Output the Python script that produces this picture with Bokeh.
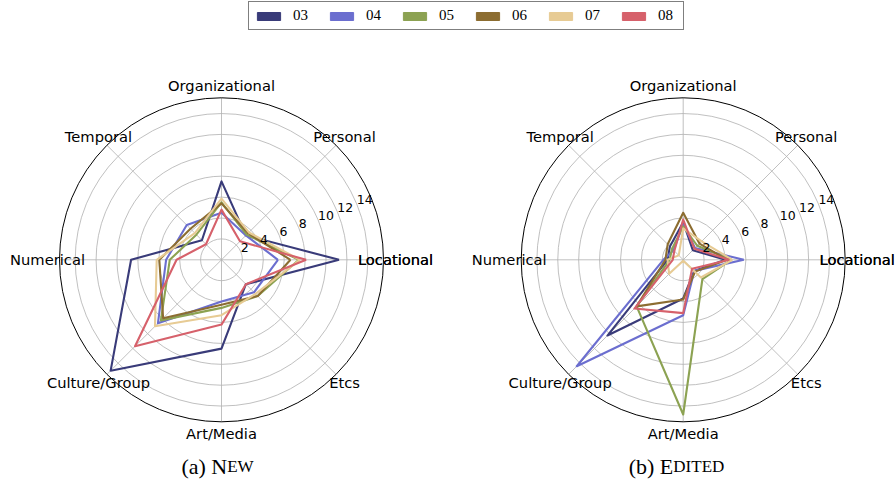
import numpy as np
from bokeh.plotting import figure
from bokeh.models import Range1d, Legend, LegendItem, ColumnDataSource
from bokeh.core.properties import value
from bokeh.embed import file_html
from bokeh.resources import INLINE

# ---------------- data ----------------
categories = ["Locational", "Personal", "Organizational", "Temporal",
              "Numerical", "Culture/Group", "Art/Media", "Etcs"]
series_names = ["03", "04", "05", "06", "07", "08"]
r_ticks = [2, 4, 6, 8, 10, 12, 14]
r_max = 15.5

new_03 = [11.25, 3.3, 7.5, 2.65, 8.65, 15.0, 8.5, 3.3]
new_04 = [5.4, 3.3, 4.5, 4.7, 5.3, 8.6, 4.0, 4.4]
new_05 = [7.4, 3.4, 5.5, 3.4, 4.95, 8.2, 4.6, 4.9]
new_06 = [6.6, 3.6, 5.4, 4.2, 5.95, 7.9, 4.3, 4.9]
new_07 = [7.5, 3.7, 5.85, 3.6, 6.2, 9.0, 5.3, 4.6]
new_08 = [8.1, 2.5, 4.8, 2.1, 4.3, 11.7, 6.2, 3.3]

edited_03 = [4.05, 1.3, 3.6, 1.8, 1.5, 10.25, 3.7, 1.5]
edited_04 = [5.8, 1.6, 3.4, 1.3, 1.9, 14.4, 5.3, 1.5]
edited_05 = [4.6, 1.9, 3.2, 1.5, 1.3, 6.3, 14.8, 2.6]
edited_06 = [4.2, 2.2, 4.5, 2.1, 1.7, 6.3, 3.8, 1.6]
edited_07 = [4.7, 2.5, 3.0, 0.6, 1.5, 1.9, 0.1, 2.4]
edited_08 = [4.4, 1.5, 3.85, 1.2, 1.0, 6.6, 5.1, 1.2]

new_series = [new_03, new_04, new_05, new_06, new_07, new_08]
edited_series = [edited_03, edited_04, edited_05, edited_06, edited_07, edited_08]

# ---------------- style / layout ----------------
colors = ["#393b79", "#6b6ecf", "#8ca252", "#8c6d31", "#e7cb94", "#d6616b"]
W, H = 895, 479
S = 162.0 / r_max            # px per radial unit
CXL, CY = 221.0, 259.3       # left centre (px from top-left of canvas)
CXR = 682.7                  # right centre
SANS = value("DejaVu Sans")
SERIF = value("Liberation Serif")

p = figure(width=W, height=H, output_backend="svg", toolbar_location=None,
           x_axis_location=None, y_axis_location=None, min_border=0,
           x_range=Range1d(-CXL / S, (W - CXL) / S),
           y_range=Range1d(-(H - CY) / S, CY / S))
p.grid.visible = False
p.outline_line_color = None
p.background_fill_color = "white"

angles = np.deg2rad(np.arange(len(categories)) * 45.0)


def radar(cx, cy, series_list):
    # rings
    p.circle(x=[cx] * len(r_ticks), y=[cy] * len(r_ticks), radius=r_ticks,
             fill_color=None, line_color="#b0b0b0", line_width=0.8)
    # spokes
    p.segment(x0=[cx] * len(angles), y0=[cy] * len(angles),
              x1=cx + r_max * np.cos(angles), y1=cy + r_max * np.sin(angles),
              line_color="#b0b0b0", line_width=0.8)
    # outer circle
    p.circle(x=[cx], y=[cy], radius=[r_max], fill_color=None,
             line_color="black", line_width=1.0)
    # series
    for vals, col in zip(series_list, colors):
        v = np.array(vals + vals[:1], dtype=float)
        a = np.concatenate([angles, angles[:1]])
        p.line(cx + v * np.cos(a), cy + v * np.sin(a), line_color=col,
               line_width=2.1, line_join="round")
    # category labels
    lr = 174.0 / S
    lab_x = list(cx + lr * np.cos(angles)) + [cx + lr]
    lab_y = list(cy + lr * np.sin(angles)) + [cy]
    p.text(x=lab_x, y=lab_y, text=categories + [categories[0]],
           text_font=SANS, text_font_size="14.7px", text_color="#000000",
           text_align="center", text_baseline="middle")
    # radial tick labels
    ta = np.deg2rad(22.5)
    rt = np.array(r_ticks, dtype=float)
    p.text(x=cx + rt * np.cos(ta), y=cy + rt * np.sin(ta),
           text=[str(t) for t in r_ticks], text_font=SANS,
           text_font_size="12.5px", text_color="#000000",
           text_align="left", text_baseline="bottom")


radar(0.0, 0.0, new_series)
radar((CXR - CXL) / S, 0.0, edited_series)

# captions (small caps emulated)
F_BIG, F_SMALL = 22.0, 17.0
base_y = -(466.0 - CY) / S


def caption(center_px, big, small, big_em, small_em):
    wb = big_em * F_BIG
    ws = small_em * F_SMALL
    x0 = center_px - (wb + ws) / 2.0
    p.text(x=[(x0 - CXL) / S], y=[base_y], text=[big], text_font=SERIF,
           text_font_size=f"{F_BIG}px", text_align="left",
           text_baseline="alphabetic", text_color="#000000")
    p.text(x=[(x0 + wb - CXL) / S], y=[base_y], text=[small], text_font=SERIF,
           text_font_size=f"{F_SMALL}px", text_align="left",
           text_baseline="alphabetic", text_color="#000000")


caption(217.0, "(a) N", "EW", 2.082, 1.555)
caption(676.0, "(b) E", "DITED", 2.027, 2.999)

# legend (proxy swatches placed outside the visible range)
items = []
far = 1e4
for name, col in zip(series_names, colors):
    src = ColumnDataSource(dict(left=[far], right=[far + 1], top=[far + 1], bottom=[far]))
    r = p.quad(left="left", right="right", top="top", bottom="bottom",
               source=src, fill_color=col, line_color=col)
    items.append(LegendItem(label=name, renderers=[r]))

legend = Legend(items=items, orientation="horizontal", location=(248, H - 4 - 26),
                glyph_width=29, glyph_height=10, label_standoff=10, spacing=14,
                padding=5, margin=0, border_line_color="black",
                border_line_width=1, background_fill_color="white",
                background_fill_alpha=1.0, label_text_font="Liberation Serif",
                label_text_font_size="15px", label_text_color="black",
                label_height=16)
p.add_layout(legend)

open("out.html", "w").write(file_html(p, INLINE))
